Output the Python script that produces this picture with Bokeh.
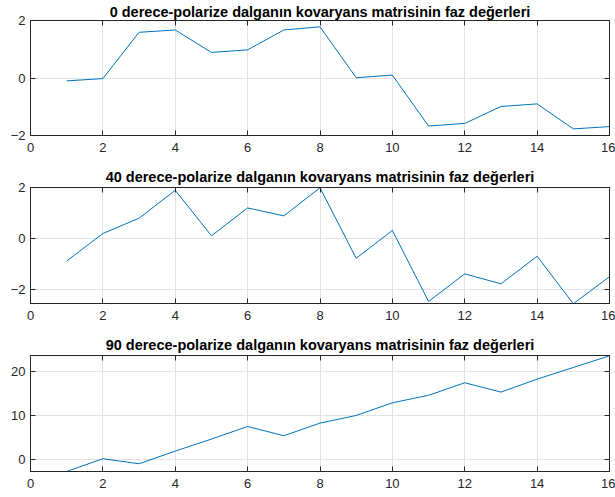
from bokeh.plotting import figure
from bokeh.layouts import column
from bokeh.models import LinearAxis, Range1d, FixedTicker, CustomJSTickFormatter
from bokeh.embed import file_html
from bokeh.resources import INLINE

x = list(range(1, 17))
phase_0 = [-0.10, -0.02, 1.59, 1.67, 0.89, 0.98, 1.67, 1.78,
           0.01, 0.10, -1.67, -1.58, -0.99, -0.90, -1.77, -1.69]
phase_40 = [-0.88, 0.20, 0.80, 1.89, 0.11, 1.20, 0.89, 1.99,
            -0.77, 0.32, -2.46, -1.38, -1.77, -0.69, -2.55, -1.49]
phase_90 = [-2.80, 0.08, -1.06, 1.82, 4.55, 7.42, 5.30, 8.18,
            9.92, 12.80, 14.50, 17.35, 15.23, 18.18, 20.83, 23.48]

titles = ["0 derece-polarize dalganın kovaryans matrisinin faz değerleri",
          "40 derece-polarize dalganın kovaryans matrisinin faz değerleri",
          "90 derece-polarize dalganın kovaryans matrisinin faz değerleri"]
x_ticks = [0, 2, 4, 6, 8, 10, 12, 14, 16]
y_ticks = [[-2, 0, 2], [-2, 0, 2], [0, 10, 20]]
y_ranges = [(-2.0, 2.0), (-2.54, 2.0), (-2.82, 23.55)]
series = [phase_0, phase_40, phase_90]

FONT = "Liberation Sans"
AX = "#262626"
GRID = "#e3e3e3"
LINE = "#0072BD"

# (height, top border, frame height, bottom border, title standoff)
geom = [(162, 20, 115, 27, 2), (168, 25, 116, 27, 5), (167, 25, 116, 26, 6)]

figs = []
for i in range(3):
    h, bt, fh, bb, so = geom[i]
    p = figure(width=615, height=h, output_backend="svg", toolbar_location=None,
               x_range=Range1d(0, 16), y_range=Range1d(*y_ranges[i]),
               frame_width=579, frame_height=fh,
               min_border_left=30, min_border_right=6,
               min_border_top=bt, min_border_bottom=bb,
               title=titles[i])
    p.title.text_font = FONT
    p.title.text_font_size = "14.5px"
    p.title.text_font_style = "bold"
    p.title.align = "center"
    p.title.text_color = "#000000"
    p.title.standoff = so
    p.outline_line_color = AX
    p.outline_line_width = 1
    p.background_fill_color = "white"
    p.border_fill_color = "white"

    p.line(x, series[i], line_color=LINE, line_width=1)

    for ax in (p.xaxis[0], p.yaxis[0]):
        ax.major_tick_in = 5
        ax.major_tick_out = 0
        ax.minor_tick_in = 0
        ax.minor_tick_out = 0
        ax.axis_line_color = AX
        ax.major_tick_line_color = AX
        ax.major_label_text_font = FONT
        ax.major_label_text_font_size = "13px"
        ax.major_label_text_color = AX
    p.xaxis[0].ticker = FixedTicker(ticks=x_ticks)
    p.yaxis[0].ticker = FixedTicker(ticks=y_ticks[i])
    p.xaxis[0].major_label_standoff = 7
    p.yaxis[0].major_label_standoff = 5

    blank = CustomJSTickFormatter(code="return ''")
    ra = LinearAxis(ticker=FixedTicker(ticks=y_ticks[i]), formatter=blank,
                    major_tick_in=5, major_tick_out=0, minor_tick_in=0, minor_tick_out=0,
                    major_label_standoff=0, axis_line_color=AX, major_tick_line_color=AX,
                    major_label_text_font_size="1px")
    ta = LinearAxis(ticker=FixedTicker(ticks=x_ticks), formatter=blank,
                    major_tick_in=5, major_tick_out=0, minor_tick_in=0, minor_tick_out=0,
                    major_label_standoff=0, axis_line_color=AX, major_tick_line_color=AX,
                    major_label_text_font_size="1px")
    p.add_layout(ra, "right")
    p.add_layout(ta, "above")

    p.xgrid[0].ticker = FixedTicker(ticks=x_ticks)
    p.ygrid[0].ticker = FixedTicker(ticks=y_ticks[i])
    p.xgrid.grid_line_color = GRID
    p.ygrid.grid_line_color = GRID
    figs.append(p)

layout = column(*figs, spacing=0)
open("out.html", "w").write(file_html(layout, INLINE))
